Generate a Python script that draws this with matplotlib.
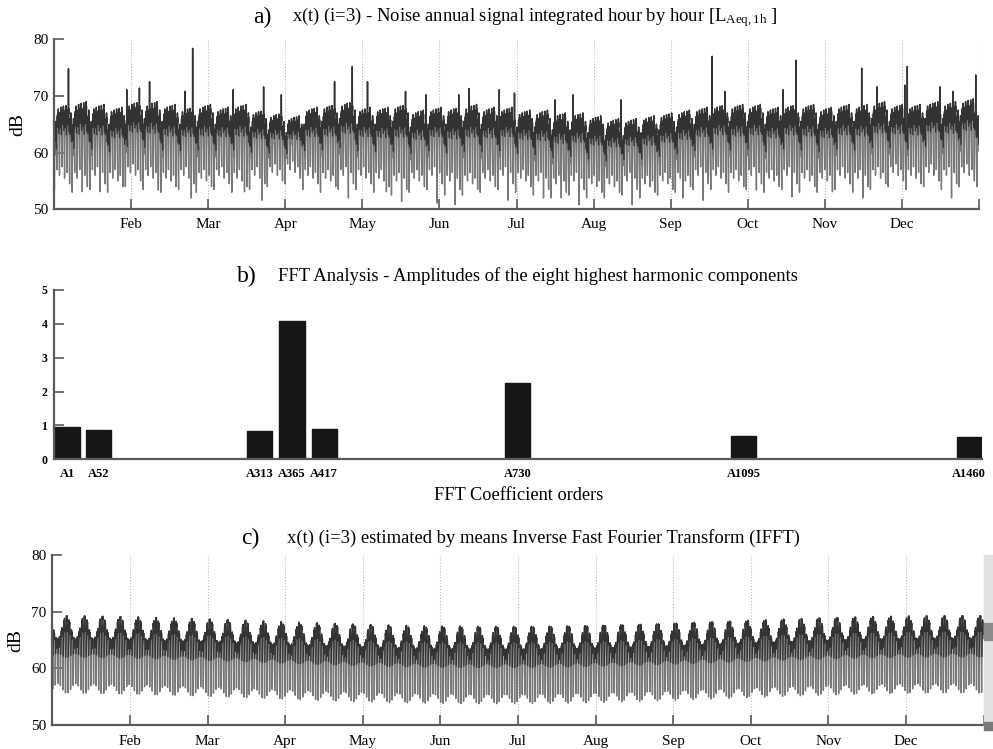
import numpy as np
import matplotlib
matplotlib.use("Agg")
import matplotlib.pyplot as plt
from matplotlib.patches import Rectangle

# ---------------- data ----------------
N_HOURS = 8760
month_labels = ['Feb', 'Mar', 'Apr', 'May', 'Jun', 'Jul', 'Aug', 'Sep', 'Oct', 'Nov', 'Dec']

# panel b : eight highest harmonic components
fft_orders = [1, 52, 313, 365, 417, 730, 1095, 1460]
fft_labels = ['A1', 'A52', 'A313', 'A365', 'A417', 'A730', 'A1095', 'A1460']
fft_amplitudes = [0.94, 0.88, 0.84, 4.09, 0.89, 2.24, 0.68, 0.65]
fft_phases = [0.17, 1.29, 0.81, 2.09, 3.38, 1.05, 0.0, -1.05]
mean_level = 63.2

hour_shape = [0.42, 0.28, 0.15, 0.06, 0.0, 0.12, 0.40, 0.70, 0.88, 0.76, 0.92, 0.80,
              0.86, 0.72, 0.90, 0.80, 0.96, 1.0, 0.86, 0.94, 0.78, 0.70, 0.60, 0.50]
week_top = [68.0, 68.5, 68.0, 67.5, 68.5, 68.5, 68.0, 67.5, 68.0, 67.5, 68.0, 67.0,
            66.5, 66.0, 67.5, 68.0, 68.5, 67.5, 67.5, 68.0, 67.0, 67.5, 67.5, 68.0,
            67.5, 67.5, 67.0, 67.0, 66.5, 66.5, 66.0, 65.5, 65.5, 66.0, 66.5, 67.0,
            67.5, 68.0, 68.0, 68.0, 67.5, 68.0, 68.0, 67.5, 68.0, 68.0, 68.5, 68.0,
            68.0, 68.5, 68.5, 69.0, 69.0]
week_floor = [55.5, 55.0, 55.5, 55.0, 56.0, 55.5, 55.0, 55.5, 55.0, 55.5, 55.0, 55.5,
              56.0, 56.5, 55.5, 55.0, 55.5, 55.5, 55.0, 54.5, 55.0, 55.5, 54.5, 54.5,
              55.0, 55.5, 55.0, 54.5, 54.0, 54.5, 54.0, 54.0, 54.5, 54.0, 54.5, 55.0,
              55.5, 55.5, 55.0, 55.5, 55.0, 55.5, 55.0, 55.0, 55.5, 55.0, 55.5, 56.0,
              55.5, 56.0, 55.5, 56.0, 56.0]
dow_top = [-2.5, -0.3, 0.0, 0.2, 0.3, 0.5, -1.0]
dow_floor = [-2.0, 1.5, 0.5, 2.0, 0.0, 1.0, -1.0]
spike_days = [5, 28, 33, 37, 51, 54, 70, 82, 89, 110, 117, 123, 138, 146, 159, 163, 175,
              181, 197, 204, 223, 259, 264, 287, 292, 318, 324, 335, 336, 349, 354, 363]
spike_vals = [74.8, 71.1, 71.4, 72.5, 70.8, 78.4, 71.1, 71.6, 70.2, 72.5, 75.2, 72.5, 70.8,
              70.2, 70.2, 71.3, 71.1, 70.5, 69.3, 70.2, 69.3, 77.0, 70.8, 71.1, 76.3, 74.9,
              71.6, 71.9, 75.2, 71.6, 70.8, 73.7]
dip_days = [11, 18, 41, 54, 75, 82, 116, 131, 137, 151, 158, 179, 193, 200, 207, 228,
            248, 256, 277, 291, 307, 319, 354]
dip_vals = [53.1, 53.1, 53.4, 52.0, 53.1, 51.6, 52.0, 53.1, 51.4, 51.1, 50.8, 51.6, 52.0,
            52.0, 50.8, 50.8, 52.0, 51.6, 53.4, 52.2, 53.1, 52.0, 52.0]

# ---------------- build series ----------------
t = np.arange(N_HOURS)
hour_of_day = t % 24
daytime = (hour_of_day >= 7) & (hour_of_day <= 22)

# panel c : inverse transform of the eight harmonics
x_ifft = np.full(N_HOURS, mean_level)
for k, a, ph in zip(fft_orders, fft_amplitudes, fft_phases):
    x_ifft = x_ifft + a * np.cos(2 * np.pi * k * t / N_HOURS + ph)

# panel a : hourly levels
n_days = N_HOURS // 24
x_meas = np.zeros(N_HOURS)
shape = np.array(hour_shape)
for d in range(n_days):
    w = d // 7
    dw = d % 7
    top = week_top[w] + dow_top[dw]
    floor = week_floor[w] + dow_floor[dw]
    x_meas[d * 24:(d + 1) * 24] = floor + (top - floor) * shape
for d, v in zip(spike_days, spike_vals):
    x_meas[d * 24 + 17] = v
for d, v in zip(dip_days, dip_vals):
    x_meas[d * 24 + 4] = v

# ---------------- style ----------------
plt.rcParams['font.family'] = ['Liberation Serif', 'DejaVu Serif']
plt.rcParams['mathtext.fontset'] = 'custom'
plt.rcParams['mathtext.rm'] = 'Liberation Serif'
plt.rcParams['mathtext.it'] = 'Liberation Serif:italic'

W, H = 993, 749
fig = plt.figure(figsize=(W / 100, H / 100), dpi=100)


def box(l, t_, r, b):
    return [l / W, 1 - b / H, (r - l) / W, (b - t_) / H]


SPINE = '#5a5a5a'
LINE_DARK = '#333333'
LINE_GREY = '#787878'


def style_axes(ax):
    for s in ['top', 'right']:
        ax.spines[s].set_visible(False)
    for s in ['left', 'bottom']:
        ax.spines[s].set_color(SPINE)
        ax.spines[s].set_linewidth(1.6)
    ax.tick_params(direction='in', color=SPINE, width=1.2, length=7)


def time_axes(ax, xpad):
    style_axes(ax)
    ax.set_xlim(0, N_HOURS)
    ax.set_ylim(50, 80)
    ticks = [730 * k for k in range(1, 13)]
    ax.set_xticks(ticks)
    ax.set_xticklabels(month_labels + [''], fontsize=11)
    ax.set_yticks([50, 60, 70, 80])
    ax.tick_params(axis='y', labelsize=11, pad=4)
    ax.tick_params(axis='x', pad=xpad)
    ax.grid(axis='x', color='#b8b8b8', linestyle=':', linewidth=0.8)
    ax.set_ylabel('dB', fontsize=14, labelpad=5)


def draw_signal(ax, x):
    ax.plot(t, x, color=LINE_GREY, linewidth=1.0)
    ax.plot(t, np.where(daytime, x, np.nan), color=LINE_DARK, linewidth=1.0)


def panel_title(letter, x_letter, text, x_text, y_px):
    yc = 1 - y_px / H
    fig.text(x_letter / W, yc, letter, fontsize=17, ha='left', va='center')
    fig.text(x_text / W, yc, text, fontsize=13.4, ha='left', va='center')


# panel a
axA = fig.add_axes(box(54, 39.3, 979, 209.3))
draw_signal(axA, x_meas)
time_axes(axA, 6)
panel_title('a)', 253, r'x(t) (i=3) - Noise annual signal integrated hour by hour [L$_{\mathrm{Aeq,1h}}$ ]',
            292, 17)

# panel b
axB = fig.add_axes(box(54.3, 290, 982, 459.3))
style_axes(axB)
pos = [o * 7 / 365 for o in fft_orders]
axB.bar(pos, fft_amplitudes, width=0.78, color='#161616', edgecolor='#161616')
axB.set_xlim(-0.375, 28.4)
axB.set_ylim(0, 5)
axB.set_xticks(pos)
axB.set_xticklabels(fft_labels, fontsize=9, fontweight='bold')
axB.tick_params(axis='x', length=0, pad=6)
axB.set_yticks([0, 1, 2, 3, 4, 5])
axB.tick_params(axis='y', labelsize=8.5, pad=5)
for lab in axB.get_yticklabels():
    lab.set_fontweight('bold')
axB.set_xlabel('FFT Coefficient orders', fontsize=13.2, labelpad=5)
panel_title('b)', 237, 'FFT Analysis - Amplitudes of the eight highest harmonic components', 278, 276)

# panel c
axC = fig.add_axes(box(52.3, 555, 983.7, 725))
draw_signal(axC, x_ifft)
time_axes(axC, 7)
panel_title('c)', 241, 'x(t) (i=3) estimated by means Inverse Fast Fourier Transform (IFFT)', 287, 538)

# grey strip at the right edge of panel c
fig.patches.append(Rectangle((984 / W, 1 - 730 / H), 9 / W, 175 / H,
                             transform=fig.transFigure, color='#e2e2e2', zorder=0))
fig.patches.append(Rectangle((984 / W, 1 - 640 / H), 9 / W, 17 / H,
                             transform=fig.transFigure, color='#8c8c8c', zorder=0))
fig.patches.append(Rectangle((984 / W, 1 - 730 / H), 9 / W, 8 / H,
                             transform=fig.transFigure, color='#7a7a7a', zorder=0))

fig.savefig('out.png', dpi=100)
